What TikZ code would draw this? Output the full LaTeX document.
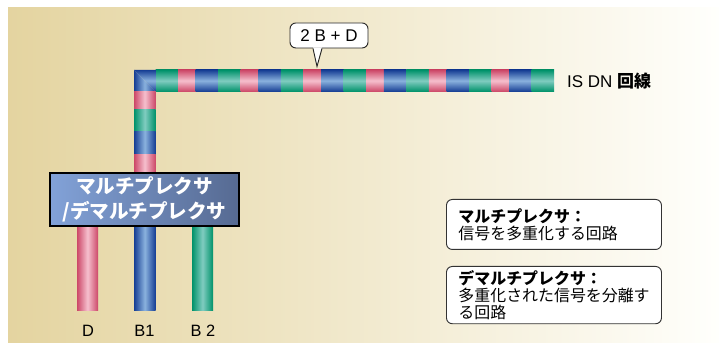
\documentclass[tikz,border=0pt]{standalone}
\usepackage{fontspec}
\setmainfont{Liberation Sans}
\newfontfamily\jp{Noto Sans CJK JP}
\usetikzlibrary{calc}
\usetikzlibrary{positioning}
\definecolor{pinkD}{RGB}{204,72,104}
\definecolor{pinkL}{RGB}{246,192,206}
\definecolor{blueD}{RGB}{22,62,148}
\definecolor{blueL}{RGB}{138,178,222}
\definecolor{greenD}{RGB}{0,146,106}
\definecolor{greenL}{RGB}{128,204,192}
\definecolor{bgtan}{RGB}{228,212,160}
\definecolor{bgwhite}{RGB}{255,255,252}
\definecolor{muxL}{RGB}{130,162,216}
\definecolor{muxR}{RGB}{86,106,146}

\def\px{0.03cm}

\tikzset{
    hseg/.style={top color=#1D, bottom color=#1D, middle color=#1L},
    vseg/.style={left color=#1D, right color=#1D, middle color=#1L},
    mux/.style={draw=black, line width=1.8pt, left color=muxL, right color=muxR,
        minimum width=189*\px, minimum height=53*\px, align=center, text=white,
        font=\jp\bfseries\fontsize{16.7}{21}\selectfont},
    note/.style={draw=black!80, line width=0.8pt, fill=white, rounded corners=5pt,
        text width=191*\px, inner xsep=12*\px, minimum height=#1*\px, align=left,
        anchor=north west, font=\jp\fontsize{13.6}{14.6}\selectfont},
    bubble/.style={draw=black!85, line width=0.8pt, fill=white, rounded corners=5pt,
        minimum width=78*\px, minimum height=25*\px, font=\fontsize{14.5}{16}\selectfont},
    lbl/.style={font=\fontsize{14}{16}\selectfont}
}

\begin{document}
\begin{tikzpicture}[x=0.03cm, y=-0.03cm]

    \useasboundingbox (0,0) rectangle (719,349);
    % 背景
    \shade[left color=bgtan, right color=bgwhite] (8,8) rectangle (719,343);

    \def\P{17.7}
    \def\B{22.5}
    \def\G{22.5}
    \def\T{62.7}
    \def\W{21.5}

    % 水平の回線 (G, P, B の繰り返し)
    \foreach \m in {0,...,5}{
        \pgfmathsetmacro{\xa}{155.5+\T*\m}
        \pgfmathsetmacro{\xb}{\xa+\G}
        \pgfmathsetmacro{\xc}{\xb+\P}
        \shade[hseg=green] (\xa,70) rectangle (\xb+0.3,70+\W);
        \shade[hseg=pink] (\xb,70) rectangle (\xc+0.3,70+\W);
        \shade[hseg=blue] (\xc,70) rectangle (\xc+\B+0.3,70+\W);
    }
    \pgfmathsetmacro{\xa}{155.5+\T*6}
    \shade[hseg=green] (\xa,70) rectangle (\xa+\G,70+\W);

    % 角
    \begin{scope}
        \clip (134,70) -- (155.5,70) -- (155.5,91.5) -- cycle;
        \shade[hseg=blue] (134,70) rectangle (155.8,91.5);
    \end{scope}
    \begin{scope}
        \clip (134,70) -- (134,91.5) -- (155.5,91.5) -- cycle;
        \shade[vseg=blue] (134,70) rectangle (155.5,91.8);
    \end{scope}

    % 垂直の回線
    \shade[vseg=pink] (134,91.5) rectangle (155.5,109.5);
    \shade[vseg=green] (134,109.2) rectangle (155.5,132.2);
    \shade[vseg=blue] (134,131.9) rectangle (155.5,154.7);
    \shade[vseg=pink] (134,154.4) rectangle (155.5,180);

    % 分離された回線
    \shade[vseg=pink] (77,220) rectangle (98,311);
    \shade[vseg=blue] (134,220) rectangle (155.5,311);
    \shade[vseg=green] (192,220) rectangle (213,311);

    \node[mux] (mux) at (144.5,199.5) {マルチプレクサ\\/デマルチプレクサ};

    \node[lbl] (labD) at (88,331) {D};
    \node[lbl] (labB1) at (144.5,331) {B1};
    \node[lbl] (labB2) at (203,331) {B 2};

    % 吹き出し
    \node[bubble] (bub) at (329,35.5) {2 B + D};
    \fill[white] ($(bub.south)+(-16,-1.2)$) -- ($(bub.south)+(-12,18)$) -- ($(bub.south)+(-7,-1.2)$) -- cycle;
    \draw[black!85, line width=0.8pt] ($(bub.south)+(-16,0)$) -- ($(bub.south)+(-12,18)$) -- ($(bub.south)+(-7,0)$);

    \node[anchor=west, font=\fontsize{14.5}{16}\selectfont] (isdn) at (563,81) {IS DN {\jp\bfseries 回線}};

    % 説明
    \node[note=50] (noteM) at (446,199) {{\bfseries マルチプレクサ：}\\信号を多重化する回路};
    \node[note=57] (noteD) at (446,266) {{\bfseries デマルチプレクサ：}\\多重化された信号を分離す\\る回路};

\end{tikzpicture}
\end{document}
